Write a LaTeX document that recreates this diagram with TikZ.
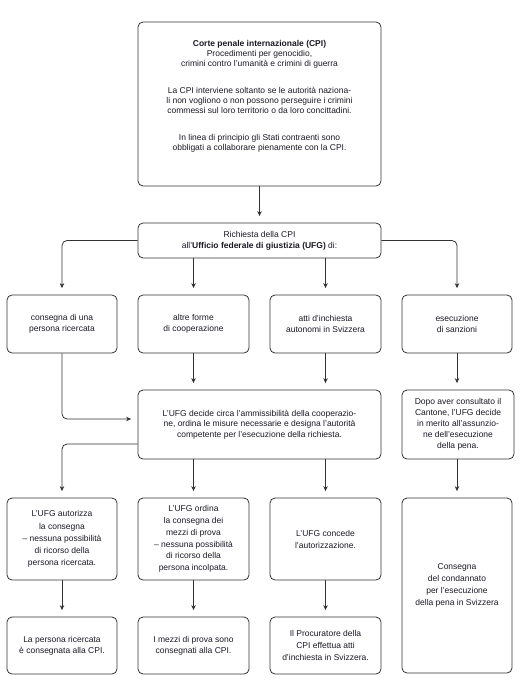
\documentclass[tikz,border=0pt]{standalone}
\usepackage{fontspec}
\setmainfont{Liberation Sans}
\usetikzlibrary{arrows.meta}
\definecolor{edge}{HTML}{333333}
\definecolor{ink}{HTML}{1A1A26}
\begin{document}
\begin{tikzpicture}[x=1pt,y=-1pt,
  box/.style={draw=edge, line width=0.8pt, rounded corners=5pt, inner sep=0pt, align=center, text=ink, font=\fontsize{8.5}{11.5}\selectfont},
  txt/.style={inner sep=0pt, align=center, text=ink, font=\fontsize{8.5}{10}\selectfont},
  arr/.style={draw=edge, line width=0.8pt, -{Stealth[length=5pt,width=4.5pt]}, shorten >=6.5pt, rounded corners=5pt},
  small/.style={box, minimum width=110pt}
]
\useasboundingbox[fill=white] (0,0) rectangle (520,681);

% top box
\node[box, minimum width=243pt, minimum height=164pt] (cpi) at (259.5,104) {};
\node[txt] (cpit) at (259.5,96) {\textbf{Corte penale internazionale (CPI)}\\
Procedimenti per genocidio,\\
crimini contro l'umanità e crimini di guerra\\[17pt]
La CPI interviene soltanto se le autorità naziona-\\
li non vogliono o non possono perseguire i crimini\\
commessi sul loro territorio o da loro concittadini.\\[17pt]
In linea di principio gli Stati contraenti sono\\
obbligati a collaborare pienamente con la CPI.};

\node[box, minimum width=243pt, minimum height=35pt, font=\fontsize{8.5}{11}\selectfont] (req) at (259.5,240.5) {Richiesta della CPI\\all'\textbf{Ufficio federale di giustizia (UFG)} di:};

% row 2
\node[small, minimum height=58pt] (r2a) at (62,324) {consegna di una\\persona ricercata};
\node[small, minimum height=58pt, minimum width=111pt] (r2b) at (193.5,324) {altre forme\\di cooperazione};
\node[small, minimum height=58pt, minimum width=111pt] (r2c) at (325.5,324) {atti d'inchiesta\\autonomi in Svizzera};
\node[small, minimum height=58pt] (r2d) at (457,324) {esecuzione\\di sanzioni};

% row 3
\node[box, minimum width=243pt, minimum height=69pt, font=\fontsize{8.5}{10.5}\selectfont] (ufg) at (259.5,424.5) {L'UFG decide circa l'ammissibilità della cooperazio-\\ne, ordina le misure necessarie e designa l'autorità\\competente per l'esecuzione della richiesta.};
\node[box, minimum width=112pt, minimum height=69pt, font=\fontsize{8.5}{11}\selectfont] (dopo) at (458,424.5) {Dopo aver consultato il\\Cantone, l'UFG decide\\in merito all'assunzio-\\ne dell'esecuzione\\della pena.};

% row 4
\node[small, minimum height=82pt, font=\fontsize{8.5}{12.2}\selectfont] (r4a) at (62,539) {L'UFG autorizza\\la consegna\\– nessuna possibilità\\di ricorso della\\persona ricercata.};
\node[small, minimum height=82pt, minimum width=111pt, font=\fontsize{8.5}{11.8}\selectfont] (r4b) at (193.5,539) {L'UFG ordina\\la consegna dei\\mezzi di prova\\– nessuna possibilità\\di ricorso della\\persona incolpata.};
\node[small, minimum height=82pt, minimum width=111pt, font=\fontsize{8.5}{12}\selectfont] (r4c) at (325.5,539) {L'UFG concede\\l'autorizzazione.};
\node[small, minimum height=175pt, font=\fontsize{8.5}{12}\selectfont] (r4d) at (457,585.5) {Consegna\\del condannato\\per l'esecuzione\\della pena in Svizzera};

% row 5
\node[small, minimum height=57pt, font=\fontsize{8.5}{10.8}\selectfont] (r5a) at (62,645.5) {La persona ricercata\\è consegnata alla CPI.};
\node[small, minimum height=57pt, minimum width=111pt, font=\fontsize{8.5}{10.8}\selectfont] (r5b) at (193.5,645.5) {I mezzi di prova sono\\consegnati alla CPI.};
\node[small, minimum height=57pt, minimum width=111pt, font=\fontsize{8.5}{12}\selectfont] (r5c) at (325.5,645.5) {Il Procuratore della\\CPI effettua atti\\d'inchiesta in Svizzera.};

% connectors
\draw[arr] (cpi.south) -- (req.north);
\draw[arr] (req.west) -| (r2a.north);
\draw[arr] (req.east) -| (r2d.north);
\draw[arr] (req.south -| r2b.north) -- (r2b.north);
\draw[arr] (req.south -| r2c.north) -- (r2c.north);

\draw[arr] (r2a.south) |- ([yshift=5.5pt]ufg.west);
\draw[arr] (r2b.south) -- (ufg.north -| r2b.south);
\draw[arr] (r2c.south) -- (ufg.north -| r2c.south);
\draw[arr] (r2d.south) -- (dopo.north -| r2d.south);

\draw[arr] ([yshift=-19.5pt]ufg.west) -| (r4a.north);
\draw[arr] (ufg.south -| r4b.north) -- (r4b.north);
\draw[arr] (ufg.south -| r4c.north) -- (r4c.north);
\draw[arr] (dopo.south -| r4d.north) -- (r4d.north);

\draw[arr] (r4a.south) -- (r5a.north);
\draw[arr] (r4b.south) -- (r5b.north);
\draw[arr] (r4c.south) -- (r5c.north);
\end{tikzpicture}
\end{document}
